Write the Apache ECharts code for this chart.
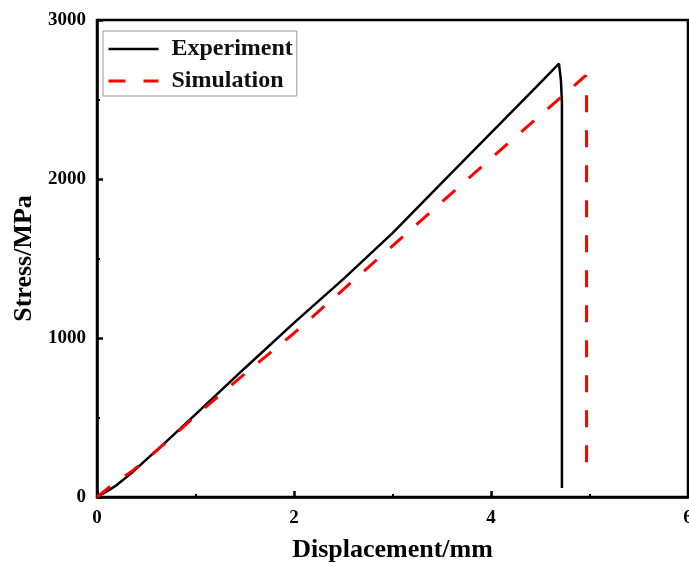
<!DOCTYPE html>
<html>
<head>
<meta charset="utf-8">
<title>Stress vs Displacement</title>
<script src="https://cdn.jsdelivr.net/npm/echarts@6/dist/echarts.min.js"></script>
<style>
  html, body { margin: 0; padding: 0; background: #fff; }
  #chart { width: 689px; height: 569px; }
</style>
</head>
<body>
<div id="chart"></div>
<script>
// experiment curve
const expX = [0, 0.1, 0.2, 0.35, 0.5, 0.75, 1.0, 1.5, 2.0, 2.5, 3.0, 3.5, 4.0, 4.5, 4.69, 4.71, 4.72, 4.72]
const expY = [0, 35, 75, 150, 235, 375, 520, 810, 1095, 1370, 1660, 1975, 2290, 2605, 2725, 2620, 2480, 57]

// simulation curve
const simX = [0, 0.1, 0.2, 0.35, 0.5, 0.75, 1.0, 1.5, 2.0, 2.5, 3.0, 3.5, 4.0, 4.5, 4.96, 4.97, 4.97]
const simY = [0, 50, 95, 160, 235, 370, 510, 775, 1030, 1305, 1580, 1855, 2130, 2400, 2650, 2620, 210]

const xTicks = [0, 2, 4, 6]
const yTicks = [0, 1000, 2000, 3000]

const FONT = '"Liberation Serif", "Times New Roman", serif'

const toPairs = (xs, ys) => xs.map((x, i) => [x, ys[i]])

const chart = echarts.init(document.getElementById('chart'))

const axisCommon = {
  type: 'value',
  axisLine: { show: true, lineStyle: { color: '#000', width: 2.5 } },
  axisTick: { show: true, inside: true, length: 6, lineStyle: { color: '#000', width: 2.5 } },
  minorTick: { show: true, splitNumber: 2, length: 3, lineStyle: { color: '#000', width: 2 } },
  splitLine: { show: false },
  axisLabel: { color: '#000', fontFamily: FONT, fontWeight: 'bold', fontSize: 19, formatter: v => String(v) },
  nameLocation: 'middle',
  nameTextStyle: { color: '#000', fontFamily: FONT, fontWeight: 'bold', fontSize: 26 }
}

const option = {
  animation: false,
  backgroundColor: '#fff',
  grid: {
    left: 97, right: 1, top: 20, bottom: 72,
    show: true, borderColor: '#000', borderWidth: 2.5,
    containLabel: false, outerBoundsMode: 'none'
  },
  legend: {
    left: 103, top: 31,
    orient: 'vertical',
    selectedMode: false,
    itemWidth: 50, itemHeight: 14, itemGap: 8,
    padding: [6, 4, 3, 4],
    borderColor: '#999', borderWidth: 1,
    itemStyle: { opacity: 0 },
    lineStyle: { width: 'inherit' },
    textStyle: { color: '#111', fontFamily: FONT, fontWeight: 'bold', fontSize: 24, padding: [0, 0, 0, 8] },
    data: ['Experiment', 'Simulation']
  },
  xAxis: {
    ...axisCommon,
    min: 0, max: xTicks[xTicks.length - 1], interval: 2,
    name: 'Displacement/mm',
    nameGap: 40,
    axisLabel: { ...axisCommon.axisLabel, margin: 12 }
  },
  yAxis: {
    ...axisCommon,
    min: 0, max: yTicks[yTicks.length - 1], interval: 1000,
    name: 'Stress/MPa',
    nameGap: 54,
    axisLabel: { ...axisCommon.axisLabel, margin: 11 }
  },
  series: [
    {
      name: 'Experiment',
      type: 'line',
      data: toPairs(expX, expY),
      showSymbol: false,
      symbol: 'none',
      lineStyle: { color: '#000', width: 2.5 },
      itemStyle: { color: '#000' }
    },
    {
      name: 'Simulation',
      type: 'line',
      data: toPairs(simX, simY),
      showSymbol: false,
      symbol: 'none',
      lineStyle: { color: '#ff0000', width: 3, type: [17, 18] },
      itemStyle: { color: '#ff0000' }
    }
  ]
}

chart.setOption(option)
</script>
</body>
</html>
